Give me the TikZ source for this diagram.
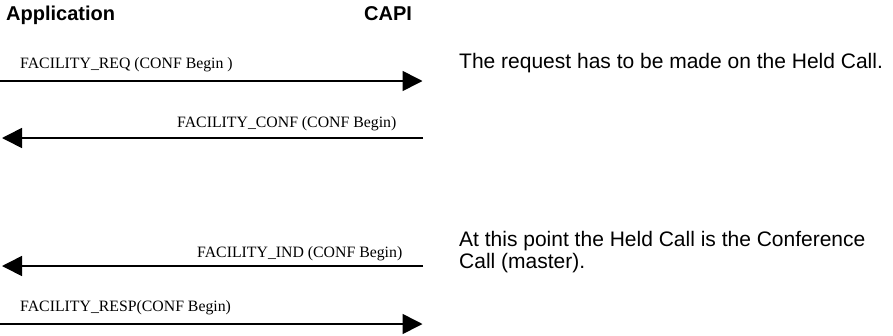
\documentclass[tikz,border=0pt]{standalone}
\usepackage{fontspec}
\setmainfont{Liberation Serif}
\newfontfamily\arialfont{Liberation Sans}
\usetikzlibrary{arrows.meta}
\tikzset{
  title/.style={inner sep=0pt, anchor=base west, font=\arialfont\bfseries\fontsize{20}{24}\selectfont},
  msglabel/.style={inner sep=0pt, anchor=base west, font=\rmfamily\fontsize{15.8}{19}\selectfont},
  note/.style={inner sep=0pt, anchor=base west, align=left, font=\arialfont\fontsize{21}{21.5}\selectfont},
  msg/.style={line width=1.6pt, -{Triangle[length=20pt,width=20pt]}}
}
\begin{document}
\begin{tikzpicture}[x=1pt,y=-1pt]
\useasboundingbox (0,0) rectangle (893,335);
\node[title] (app) at (6,20) {Application};
\node[title] (capi) at (364,20) {CAPI};
% message endpoints
\coordinate (r1s) at (0,81);   \coordinate (r1e) at (422.5,81);
\coordinate (c2s) at (423,138); \coordinate (c2e) at (2,138);
\coordinate (i3s) at (423,266); \coordinate (i3e) at (2,266);
\coordinate (p4s) at (0,324);  \coordinate (p4e) at (422.5,324);
\draw[msg] (r1s) -- (r1e);
\draw[msg] (c2s) -- (c2e);
\draw[msg] (i3s) -- (i3e);
\draw[msg] (p4s) -- (p4e);
\node[msglabel] (l1) at (20,68) {FACILITY\_REQ (CONF Begin )};
\node[msglabel] (l2) at (177,127) {FACILITY\_CONF (CONF Begin)};
\node[msglabel] (l3) at (197,257) {FACILITY\_IND (CONF Begin)};
\node[msglabel] (l4) at (20,311) {FACILITY\_RESP(CONF Begin)};
\node[note] (n1) at (459,68) {The request has to be made on the Held Call.};
\node[note] (n2) at (459,268) {At this point the Held Call is the Conference\\Call (master).};
\end{tikzpicture}
\end{document}
